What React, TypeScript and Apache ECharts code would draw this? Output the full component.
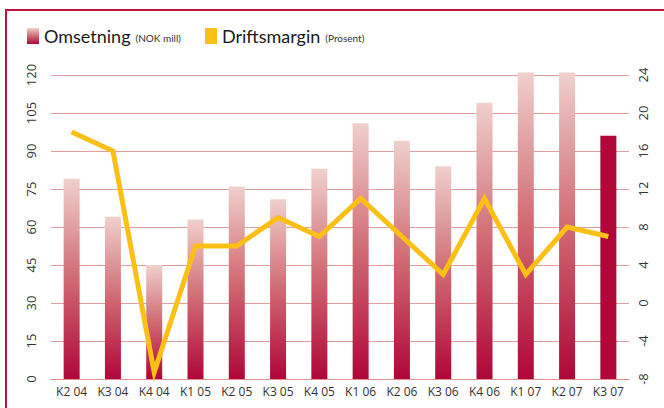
import React, { useEffect, useRef } from "react";
import * as echarts from "echarts";

const categories = ["K2 04", "K3 04", "K4 04", "K1 05", "K2 05", "K3 05", "K4 05", "K1 06", "K2 06", "K3 06", "K4 06", "K1 07", "K2 07", "K3 07"];
const omsetning = [79, 64, 45, 63, 76, 71, 83, 101, 94, 84, 109, 121, 121, 96];
const driftsmargin = [18, 16, -7.3, 6, 6, 9, 7, 11, 7, 3, 11, 3, 8, 7];
const seriesNames = ["Omsetning", "Driftsmargin"];
const seriesUnits = ["(NOK mill)", "(Prosent)"];

const CRIMSON = "#b00638";
const gradient = () =>
  new echarts.graphic.LinearGradient(0, 0, 0, 1, [
    { offset: 0, color: "#f0d0cc" },
    { offset: 0.5, color: "#d06a72" },
    { offset: 1, color: CRIMSON },
  ]);

export default function App() {
  const ref = useRef<HTMLDivElement>(null);
  useEffect(() => {
    if (!ref.current) return;
    const chart = echarts.init(ref.current, null, { renderer: "svg" });
    const font = "'Open Sans', 'Noto Sans', sans-serif";
    const legendFont = "Lato, 'Open Sans', sans-serif";
    chart.setOption({
      animation: false,
      textStyle: { fontFamily: font },
      graphic: [
        {
          type: "rect",
          shape: { x: 6, y: 10, width: 700, height: 500 },
          style: { fill: "none", stroke: "#c8103c", lineWidth: 2 },
          silent: true,
        },
      ],
      legend: {
        left: 22,
        top: 22,
        itemWidth: 12,
        itemHeight: 16,
        itemGap: 24,
        itemStyle: { borderWidth: 0 },
        data: [
          { name: seriesNames[0], icon: "rect", itemStyle: { color: gradient() } },
          { name: seriesNames[1], icon: "rect" },
        ],
        formatter: (name: string) => `{a|${name}}{b|${seriesUnits[seriesNames.indexOf(name)]}}`,
        textStyle: {
          rich: {
            a: { fontSize: 18, color: "#1a1a1a", fontFamily: legendFont },
            b: { fontSize: 10, color: "#333", fontFamily: legendFont, padding: [4, 0, 0, 5] },
          },
        },
      },
      grid: { left: 51, right: 35, top: 75, bottom: 29 },
      xAxis: {
        type: "category",
        data: categories,
        axisLine: { lineStyle: { color: "#e09090", width: 1 } },
        axisTick: { show: false },
        axisLabel: { color: "#333", fontSize: 12, margin: 6, interval: 0, fontFamily: font },
      },
      yAxis: [
        {
          type: "value",
          min: 0,
          max: 120,
          interval: 15,
          axisLine: { show: false },
          axisTick: { show: false },
          axisLabel: { rotate: 90, color: "#333", fontSize: 13, margin: 14, fontFamily: font },
          splitLine: { lineStyle: { color: "#e0a0a0", width: 1 } },
        },
        {
          type: "value",
          min: -8,
          max: 24,
          interval: 4,
          position: "right",
          axisLine: { show: false },
          axisTick: { show: false },
          axisLabel: { rotate: 90, color: "#333", fontSize: 13, margin: 7, fontFamily: font },
          splitLine: { show: false },
        },
      ],
      series: [
        {
          name: seriesNames[0],
          type: "bar",
          barWidth: 16,
          clip: false,
          data: omsetning.map((v, i) => ({
            value: v,
            itemStyle: { color: i === omsetning.length - 1 ? CRIMSON : gradient() },
          })),
          itemStyle: { color: gradient() },
        },
        {
          name: seriesNames[1],
          type: "line",
          yAxisIndex: 1,
          data: driftsmargin,
          symbol: "none",
          color: "#fbbf16",
          lineStyle: { color: "#fbbf16", width: 5, join: "miter", miterLimit: 20 },
          z: 5,
        },
      ],
    });
    return () => chart.dispose();
  }, []);
  return <div ref={ref} style={{ position: "absolute", left: 0, top: 0, width: 664, height: 408 }} />;
}
